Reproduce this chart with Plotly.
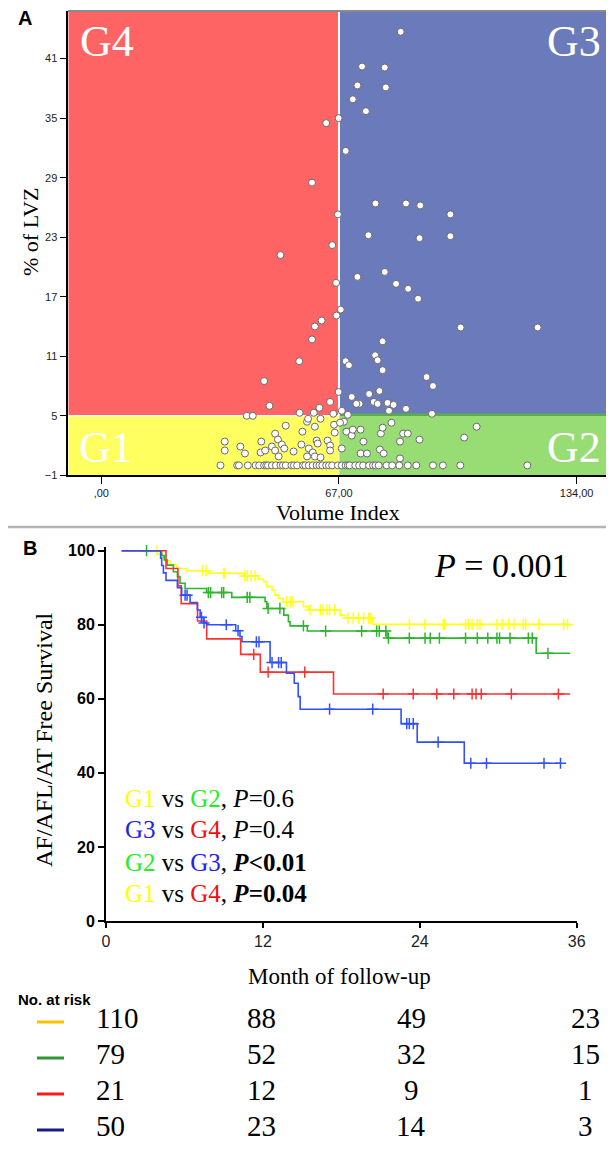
import plotly.graph_objects as go

# page body has a default 8px margin: lay the figure out in window pixel coordinates
OFF = 8
W, H = 614 - OFF, 1152 - OFF
def px(x): return (x - OFF) / W
def py(y): return 1 - (y - OFF) / H

# ---------------- Panel A data ----------------
vol_index = [84.4, 73.5, 79.9, 72.2, 80.2, 70.9, 74.6, 66.9, 63.4, 68.9, 59.4, 77.3, 85.9, 89.9, 98.4,
             66.7, 75.3, 89.7, 98.4, 65.1, 50.5, 72.2, 79.9, 83.1, 86.5, 89.3, 66.2, 67.5, 66.3, 62.1,
             60.2, 59.4, 101.3, 123.0, 79.3, 77.2, 77.9, 68.9, 69.8, 79.3, 55.8, 45.9, 91.7, 93.5, 66.9,
             47.4, 64.5, 61.5, 59.9, 55.9, 41.0, 42.7, 65.4, 67.8, 69.5, 70.6, 72.8, 71.9, 75.5, 78.4,
             76.8, 77.9, 80.7, 82.4, 81.1, 85.9, 93.2,
             52.0, 58.0, 58.3, 61.8, 60.2, 56.7, 65.8, 49.0, 49.8, 45.1, 34.8, 34.8, 39.2, 40.5, 44.9,
             46.2, 48.1, 49.0, 50.9, 51.6, 54.2, 56.4, 58.5, 59.6, 60.7, 61.0, 63.8, 64.5, 64.5, 50.0,
             58.0, 60.2, 61.8, 67.8, 68.4, 69.1, 70.6, 70.9, 73.1, 73.9, 73.1, 74.9, 78.8, 79.3, 78.5,
             79.6, 81.8, 84.2, 85.1, 86.4, 89.7, 84.2, 102.3, 105.8, 65.6, 67.3,
             33.6, 38.3, 38.8, 41.3, 43.5, 44.5, 45.9, 46.5, 47.0, 48.1, 49.2, 50.5, 51.2, 52.0, 53.6,
             54.3, 55.2, 56.9, 57.5, 58.5, 59.6, 60.7, 61.5, 62.3, 63.4, 64.2, 65.1, 66.7, 67.8, 68.9,
             69.5, 70.0, 71.6, 72.7, 73.8, 75.5, 76.6, 77.3, 78.2, 80.4, 82.0, 84.0, 86.4, 88.8, 93.5,
             96.3, 101.2, 120.1]
lvz_pct = [43.7, 40.2, 40.1, 38.3, 38.1, 36.9, 35.7, 35.0, 34.5, 31.7, 28.5, 26.4, 26.4, 26.2, 25.3,
           25.3, 23.2, 22.9, 23.1, 22.2, 21.2, 19.0, 19.5, 18.3, 17.8, 16.8, 18.4, 15.7, 15.1, 14.6,
           14.0, 12.7, 13.9, 13.9, 12.5, 11.1, 10.6, 10.5, 10.1, 9.6, 10.5, 8.5, 8.9, 8.0, 7.4,
           6.0, 6.4, 5.8, 5.3, 5.3, 5.0, 5.0, 5.2, 5.5, 5.1, 6.9, 6.2, 6.2, 7.2, 7.5,
           6.4, 6.2, 6.3, 6.1, 5.5, 5.7, 5.2,
           4.0, 4.4, 4.7, 4.7, 3.9, 3.4, 3.3, 3.2, 2.6, 2.4, 2.4, 1.5, 1.9, 1.2, 1.3,
           1.5, 1.9, 1.5, 2.1, 1.7, 1.4, 2.1, 1.7, 1.3, 2.5, 2.2, 2.5, 2.0, 1.5, 0.9,
           0.9, 0.9, 0.8, 1.7, 4.4, 3.4, 3.0, 3.6, 3.6, 2.4, 1.2, 1.2, 3.2, 3.8, 1.6,
           1.2, 4.3, 2.4, 3.2, 3.2, 2.6, 0.7, 2.8, 3.9, 4.1, 4.3,
           0, 0, 0, 0, 0, 0, 0, 0, 0, 0, 0, 0, 0, 0, 0,
           0, 0, 0, 0, 0, 0, 0, 0, 0, 0, 0, 0, 0, 0, 0,
           0, 0, 0, 0, 0, 0, 0, 0, 0, 0, 0, 0, 0, 0, 0,
           0, 0, 0]
vi_cut, lvz_cut = 67, 5
x_ticks_a = [0, 67, 134]
x_ticktext_a = [",00", "67,00", "134,00"]
y_ticks_a = [-1, 5, 11, 17, 23, 29, 35, 41]

# ---------------- Panel B data ----------------
t_start = 1.2
g1_t = [3.96, 4.3, 4.5, 4.9, 5.4, 6.17, 7.83, 10.5, 11.65, 12.04, 12.3, 12.7, 12.93, 13.2, 13.56,
        15.1, 15.48, 17.9, 18.3, 20.4]
g1_s = [99.1, 98.2, 97.2, 96.1, 95.2, 94.6, 93.9, 93.2, 92.3, 91.6, 90.3, 89.4, 88.0, 87.1, 86.2,
        84.9, 84.0, 82.6, 81.8, 80.1]
g1_cens = [3.9, 7.4, 7.65, 9.0, 9.1, 10.6, 10.8, 11.1, 11.4, 13.8, 14.1, 14.3, 15.6, 16.4, 16.6,
           16.9, 17.1, 17.5, 18.5, 18.9, 19.3, 19.7, 20.1, 20.2, 23.2, 24.4, 25.8, 25.9, 27.5, 27.7,
           28.0, 28.4, 28.6, 29.9, 30.3, 30.8, 31.2, 31.9, 32.1, 33.1, 35.0, 35.3]
g1_end = 35.5

g2_t = [4.26, 4.45, 4.69, 5.15, 5.46, 5.66, 6.05, 7.7, 9.62, 12.17, 12.3, 13.6, 13.95, 14.08, 15.4,
        21.5, 32.9]
g2_s = [98.7, 97.5, 96.1, 94.3, 93.0, 91.2, 89.8, 88.7, 87.4, 86.2, 84.4, 82.6, 80.8, 79.7, 78.3,
        76.4, 72.3]
g2_cens = [3.1, 7.83, 8.0, 8.85, 9.0, 10.8, 11.0, 12.4, 13.3, 15.1, 16.8, 19.55, 20.7, 20.9, 21.4,
           21.6, 23.2, 24.4, 24.8, 25.5, 27.5, 28.4, 29.2, 29.9, 30.1, 30.9, 32.3, 32.6, 33.8]
g2_end = 35.5

g3_t = [4.18, 4.26, 4.39, 4.59, 5.46, 5.79, 6.43, 6.99, 7.2, 7.45, 7.7, 9.92, 10.25, 10.4, 12.55,
        13.8, 14.4, 14.7, 14.85, 22.57, 23.8, 27.4]
g3_s = [98, 96, 94, 92, 90, 88, 86, 84, 82, 80.5, 80.0, 78.4, 76.8, 75.4, 69.8,
        66.9, 64.2, 60.6, 57.2, 53.3, 48.3, 42.6]
g3_cens = [6.05, 6.2, 7.3, 7.5, 9.2, 10.1, 11.5, 11.7, 12.7, 13.2, 13.4, 17.1, 20.4, 23.0, 23.2,
           23.5, 25.4, 27.9, 29.1, 33.5, 34.76]
g3_end = 34.8

g4_t = [4.59, 5.5, 5.75, 7.0, 7.7, 10.3, 11.8, 17.4]
g4_s = [95.2, 90.5, 85.7, 81.0, 76.2, 72.0, 67.2, 61.3]
g4_cens = [11.3, 12.4, 15.2, 21.2, 23.5, 25.3, 26.6, 28.0, 28.3, 28.7, 31.0, 34.6]
g4_end = 35.5

x_ticks_b = [0, 12, 24, 36]
y_ticks_b = [0, 20, 40, 60, 80, 100]

risk_g1 = [110, 88, 49, 23]
risk_g2 = [79, 52, 32, 15]
risk_g4 = [21, 12, 9, 1]
risk_g3 = [50, 23, 14, 3]

# ---------------- colours ----------------
C_RED_BG, C_BLUE_BG, C_YEL_BG, C_GRN_BG = "#ff6464", "#6b7aba", "#ffff60", "#98dc74"
C1, C2, C3, C4 = "#ffff1a", "#2db52d", "#3050ff", "#ff3030"

SERIF = "Liberation Serif, Times New Roman, serif"
SANS = "Liberation Sans, Arial, sans-serif"

fig = go.Figure()

# Panel A scatter
fig.add_trace(go.Scatter(x=vol_index, y=lvz_pct, mode="markers", xaxis="x", yaxis="y",
                         marker=dict(size=7, color="white", line=dict(color="#6a6a6a", width=1)),
                         cliponaxis=False, showlegend=False, hoverinfo="skip"))

def km_trace(t, s, end, cens, color, xa, ya):
    xs = [t_start] + t + [end]
    ys = [100] + s + [s[-1]]
    fig.add_trace(go.Scatter(x=xs, y=ys, mode="lines", line=dict(color=color, width=1.6, shape="hv"),
                             xaxis=xa, yaxis=ya, showlegend=False, hoverinfo="skip"))
    cy = []
    for c in cens:
        v = 100
        for ti, si in zip(t, s):
            if ti <= c:
                v = si
        cy.append(v)
    fig.add_trace(go.Scatter(x=cens, y=cy, mode="markers", xaxis=xa, yaxis=ya,
                             marker=dict(symbol="cross-thin", size=8, line=dict(color=color, width=1.5)),
                             cliponaxis=False, showlegend=False, hoverinfo="skip"))

km_trace(g1_t, g1_s, g1_end, g1_cens, C1, "x2", "y2")
km_trace(g2_t, g2_s, g2_end, g2_cens, C2, "x2", "y2")
km_trace(g4_t, g4_s, g4_end, g4_cens, C4, "x2", "y2")
km_trace(g3_t, g3_s, g3_end, g3_cens, C3, "x2", "y2")

XA = [-9.3, 143.4]
YA = [-1, 45.8]
shapes = [
    dict(type="rect", xref="x", yref="y", x0=XA[0], x1=vi_cut, y0=lvz_cut, y1=YA[1], fillcolor=C_RED_BG, line=dict(width=0), layer="below"),
    dict(type="rect", xref="x", yref="y", x0=vi_cut, x1=XA[1], y0=lvz_cut, y1=YA[1], fillcolor=C_BLUE_BG, line=dict(width=0), layer="below"),
    dict(type="rect", xref="x", yref="y", x0=XA[0], x1=vi_cut, y0=YA[0], y1=lvz_cut, fillcolor=C_YEL_BG, line=dict(width=0), layer="below"),
    dict(type="rect", xref="x", yref="y", x0=vi_cut, x1=XA[1], y0=YA[0], y1=lvz_cut, fillcolor=C_GRN_BG, line=dict(width=0), layer="below"),
    dict(type="line", xref="x", yref="y", x0=vi_cut, x1=XA[1], y0=lvz_cut + 0.1, y1=lvz_cut + 0.1, line=dict(color="#58ad48", width=2.5), layer="below"),
    dict(type="line", xref="x", yref="y", x0=XA[0], x1=vi_cut, y0=lvz_cut, y1=lvz_cut, line=dict(color="white", width=1.5), layer="below"),
    dict(type="line", xref="x", yref="y", x0=vi_cut, x1=vi_cut, y0=lvz_cut, y1=YA[1], line=dict(color="white", width=2), layer="below"),
    dict(type="line", xref="x", yref="y", x0=vi_cut, x1=vi_cut, y0=YA[0], y1=lvz_cut, line=dict(color="#f4f8d0", width=1), layer="below"),
    # top border of panel A
    dict(type="line", xref="paper", yref="paper", x0=px(68), x1=px(611), y0=py(11), y1=py(11), line=dict(color="#8a8a8a", width=2)),
    # separator
    dict(type="line", xref="paper", yref="paper", x0=px(OFF), x1=px(614), y0=py(527), y1=py(527), line=dict(color="#b4b4b4", width=2.5)),
]
risk_colors = ["#ffc000", "#2e962e", "#ff1a1a", "#1a1a8a"]
row_y = [1018, 1054, 1090, 1126]
for c, ry in zip(risk_colors, row_y):
    shapes.append(dict(type="line", xref="paper", yref="paper", x0=px(37), x1=px(64), y0=py(ry + 4), y1=py(ry + 4),
                       line=dict(color=c, width=3)))

ann = []
def A(text, x, y, size, family=SERIF, color="black", xanchor="center", yanchor="middle", angle=0):
    ann.append(dict(text=text, x=px(x), y=py(y), xref="paper", yref="paper", showarrow=False,
                    font=dict(size=size, family=family, color=color), xanchor=xanchor, yanchor=yanchor,
                    textangle=angle))

A("<b>A</b>", 25, 18, 20, SANS)
A("<b>B</b>", 30, 548, 20, SANS)
A("G4", 78, 42, 44, SERIF, "white", "left")
A("G3", 603, 42, 44, SERIF, "white", "right")
A("G1", 77, 447, 44, SERIF, "white", "left")
A("G2", 603, 447, 44, SERIF, "white", "right")
A("% of LVZ", 30, 232, 22, SERIF, angle=-90)
A("Volume Index", 338, 512, 22, SERIF)
A("AF/AFL/AT Free Survival", 44, 740, 24, SERIF, angle=-90)
A("Month of follow-up", 339, 976, 23, SERIF)
A("<i>P</i> = 0.001", 570, 565, 34, SERIF, xanchor="right")

def col(t, c):
    return f"<span style='color:{c}'>{t}</span>"
cmp_lines = [
    f"{col('G1', '#ffff00')} vs {col('G2', '#22ee22')}, <i>P</i>=0.6",
    f"{col('G3', '#2222ee')} vs {col('G4', '#ee1111')}, <i>P</i>=0.4",
    f"{col('G2', '#22ee22')} vs {col('G3', '#2222ee')}, <b><i>P</i>&lt;0.01</b>",
    f"{col('G1', '#ffff00')} vs {col('G4', '#ee1111')}, <b><i>P</i>=0.04</b>",
]
for t, yy in zip(cmp_lines, [798, 829, 862, 893]):
    A(t, 123, yy, 25, SERIF, xanchor="left")

A("<b>No. at risk</b>", 16, 999, 15, SANS, xanchor="left")
col_x = [94, 261, 411, 585]
col_anchor = ["left", "center", "center", "center"]
for row, ry in zip([risk_g1, risk_g2, risk_g4, risk_g3], row_y):
    for v, cx, an in zip(row, col_x, col_anchor):
        A(str(v), cx, ry, 29, SERIF, xanchor=an)

fig.update_layout(
    width=W, height=H, autosize=False,
    margin=dict(l=0, r=0, t=0, b=0, pad=0, autoexpand=False),
    paper_bgcolor="white", plot_bgcolor="rgba(0,0,0,0)",
    showlegend=False,
    shapes=shapes, annotations=ann,
    xaxis=dict(domain=[px(68.3), px(610)], range=XA, tickvals=x_ticks_a, ticktext=x_ticktext_a,
               ticks="outside", ticklen=7, tickcolor="black", showline=True, linecolor="black", linewidth=1.5,
               showgrid=False, zeroline=False, automargin=False,
               tickfont=dict(family=SANS, size=11, color="#222"), anchor="y"),
    yaxis=dict(domain=[py(475.3), py(11)], range=YA, tickvals=y_ticks_a,
               ticks="outside", ticklen=7, tickcolor="black", showline=True, linecolor="black", linewidth=1.5,
               showgrid=False, zeroline=False, automargin=False,
               tickfont=dict(family=SANS, size=11, color="#222"), anchor="x"),
    xaxis2=dict(domain=[px(106), px(576.7)], range=[0, 36], tickvals=x_ticks_b,
                ticks="outside", ticklen=5, tickwidth=2, tickcolor="black", showline=True, linecolor="black",
                linewidth=2, showgrid=False, zeroline=False, automargin=False,
                tickfont=dict(family=SANS, size=16, color="#222"), anchor="y2"),
    yaxis2=dict(domain=[py(921), py(547.0)], range=[0, 101], tickvals=y_ticks_b,
                ticks="outside", ticklen=6, tickwidth=2, tickcolor="black", showline=True, linecolor="black",
                linewidth=2, showgrid=False, zeroline=False, automargin=False,
                tickfont=dict(family=SANS, size=16, color="black", weight="bold"), anchor="x2"),
)

fig.write_html("out.html")
